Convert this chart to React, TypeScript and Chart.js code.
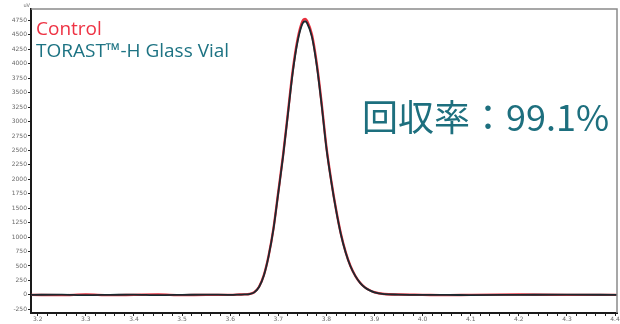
import React, { useEffect, useRef } from "react";
import { Chart, registerables } from "chart.js";

Chart.register(...registerables);

const times = [3.186, 3.25, 3.3, 3.35, 3.4, 3.45, 3.5, 3.55, 3.6, 3.62, 3.63, 3.64, 3.65, 3.66, 3.67, 3.68, 3.69, 3.7, 3.71, 3.72, 3.73, 3.74, 3.75, 3.756, 3.76, 3.77, 3.78, 3.79, 3.8, 3.81, 3.82, 3.83, 3.84, 3.85, 3.86, 3.87, 3.88, 3.89, 3.9, 3.92, 3.95, 4.0, 4.05, 4.1, 4.2, 4.3, 4.404];
const controlVals = [0, -5, 5, -5, 0, 5, -5, 0, 0, 5, 8, 15, 45, 140, 340, 680, 1150, 1780, 2420, 3150, 3880, 4420, 4730, 4775, 4740, 4500, 4000, 3320, 2560, 1980, 1480, 1060, 740, 500, 330, 210, 130, 80, 45, 15, 5, 0, -5, 0, 5, 0, 0];
const torastVals = [0, 5, -5, 0, 5, -5, 0, 5, 0, 5, 8, 14, 43, 135, 335, 675, 1140, 1765, 2400, 3125, 3845, 4380, 4690, 4735, 4700, 4460, 3965, 3290, 2540, 1965, 1470, 1050, 735, 495, 328, 208, 128, 78, 44, 14, 5, 0, 0, -5, 0, 5, 0];

const xMajorTicks = [3.2, 3.3, 3.4, 3.5, 3.6, 3.7, 3.8, 3.9, 4.0, 4.1, 4.2, 4.3, 4.4];
const xTickLabels = ["3.2", "3.3", "3.4", "3.5", "3.6", "3.7", "3.8", "3.9", "4.0", "4.1", "4.2", "4.3", "4.4"];
const yTicks = [-250, 0, 250, 500, 750, 1000, 1250, 1500, 1750, 2000, 2250, 2500, 2750, 3000, 3250, 3500, 3750, 4000, 4250, 4500, 4750];

const seriesNames = ["Control", "TORAST™-H Glass Vial"];
const recoveryText = "回収率：99.1%";

export default function App() {
  const canvasRef = useRef<HTMLCanvasElement | null>(null);

  useEffect(() => {
    const canvas = canvasRef.current;
    if (!canvas) return;

    const framePlugin = {
      id: "frame",
      afterDraw(chart: any) {
        const { ctx, chartArea } = chart;
        ctx.save();
        ctx.strokeStyle = "#8a8a8a";
        ctx.lineWidth = 1.5;
        ctx.beginPath();
        ctx.moveTo(chartArea.left, chartArea.top);
        ctx.lineTo(chartArea.right, chartArea.top);
        ctx.lineTo(chartArea.right, chartArea.bottom);
        ctx.stroke();
        ctx.fillStyle = "#666";
        ctx.font = "5px 'DejaVu Sans'";
        ctx.textAlign = "right";
        ctx.textBaseline = "bottom";
        ctx.fillText("uV", chartArea.left - 1, chartArea.top - 1);
        ctx.restore();
      },
    };

    const minorTicks: number[] = [];
    for (let i = 0; i <= 60; i++) minorTicks.push(Math.round((3.2 + i * 0.02) * 1000) / 1000);

    const chart = new Chart(canvas, {
      type: "line",
      data: {
        datasets: [
          {
            label: seriesNames[0],
            data: times.map((t, i) => ({ x: t, y: controlVals[i] })),
            borderColor: "#e8303e",
            borderWidth: 2.4,
            pointRadius: 0,
            cubicInterpolationMode: "monotone",
            order: 2,
          },
          {
            label: seriesNames[1],
            data: times.map((t, i) => ({ x: t, y: torastVals[i] })),
            borderColor: "#1b2a30",
            borderWidth: 1.8,
            pointRadius: 0,
            cubicInterpolationMode: "monotone",
            order: 1,
          },
        ],
      },
      options: {
        animation: false,
        responsive: false,
        maintainAspectRatio: false,
        layout: { padding: { top: 9, right: 3, left: 0, bottom: 0 } },
        plugins: { legend: { display: false }, tooltip: { enabled: false } },
        scales: {
          x: {
            type: "linear",
            min: 3.186,
            max: 4.404,
            afterBuildTicks: (scale: any) => {
              scale.ticks = minorTicks.map((v) => ({ value: v }));
            },
            afterFit: (scale: any) => {
              scale.height = 11;
            },
            ticks: {
              autoSkip: false,
              maxRotation: 0,
              padding: 0,
              color: "#6a6a6a",
              font: { size: 6, family: "DejaVu Sans" },
              callback: (value: any) => {
                const idx = xMajorTicks.findIndex((m) => Math.abs(m - Number(value)) < 1e-6);
                return idx >= 0 ? xTickLabels[idx] : "";
              },
            },
            grid: { drawOnChartArea: false, tickLength: 3, color: "#222" },
            border: { color: "#1a1a1a", width: 2 },
          },
          y: {
            min: -314,
            max: 4947,
            afterBuildTicks: (scale: any) => {
              scale.ticks = yTicks.map((v) => ({ value: v }));
            },
            afterFit: (scale: any) => {
              scale.width = 31;
            },
            ticks: {
              padding: 1,
              color: "#6a6a6a",
              font: { size: 6, family: "DejaVu Sans" },
              callback: (value: any) => String(value),
            },
            grid: { drawOnChartArea: false, tickLength: 3, color: "#222" },
            border: { color: "#1a1a1a", width: 2 },
          },
        },
      },
      plugins: [framePlugin],
    });

    return () => chart.destroy();
  }, []);

  return (
    <div style={{ position: "absolute", left: 0, top: 0, width: 620, height: 324, background: "#fff" }}>
      <canvas ref={canvasRef} width={620} height={324} style={{ display: "block" }} />
      <div
        style={{
          position: "absolute",
          left: 36,
          top: 17,
          fontFamily: "'Open Sans', 'Noto Sans', sans-serif",
          fontSize: 19,
          lineHeight: "22px",
          color: "#ee3344",
          whiteSpace: "nowrap",
        }}
      >
        {seriesNames[0]}
      </div>
      <div
        style={{
          position: "absolute",
          left: 36,
          top: 39,
          fontFamily: "'Open Sans', 'Noto Sans', sans-serif",
          fontSize: 19,
          lineHeight: "22px",
          color: "#1d7383",
          whiteSpace: "nowrap",
        }}
      >
        {seriesNames[1]}
      </div>
      <div
        style={{
          position: "absolute",
          left: 362,
          top: 93,
          fontFamily: "'Noto Sans CJK JP', 'Noto Sans', sans-serif",
          fontSize: 36,
          lineHeight: "44px",
          color: "#1d6f7e",
          whiteSpace: "nowrap",
        }}
      >
        {recoveryText}
      </div>
    </div>
  );
}
